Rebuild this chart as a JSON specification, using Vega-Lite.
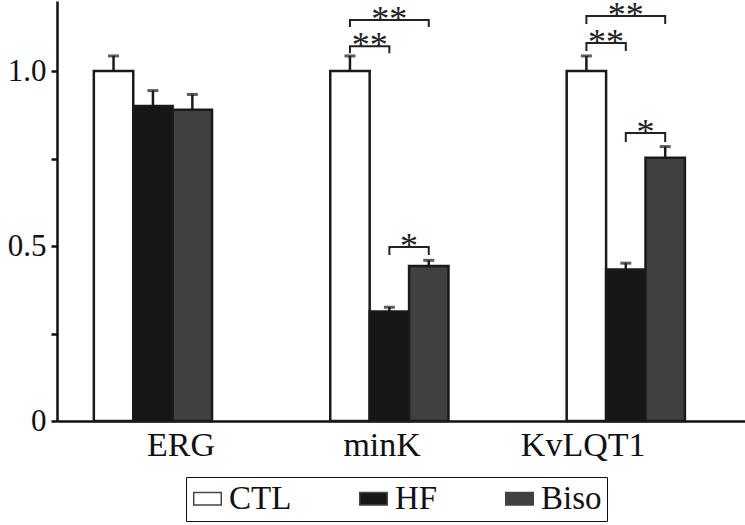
{
  "$schema": "https://vega.github.io/schema/vega-lite/v6.json",
  "width": 688,
  "height": 420,
  "autosize": {"type": "none"},
  "padding": {"left": 57, "top": 1, "right": 0, "bottom": 104},
  "config": {
    "view": {"stroke": null},
    "font": "Liberation Serif",
    "axis": {"grid": false, "labelFont": "Liberation Serif"},
    "legend": {"labelFont": "Liberation Serif"},
    "text": {"font": "Liberation Serif"}
  },
  "datasets": {
    "bars": [
      {"gene": "ERG", "group": "CTL", "value": 1.0, "upper": 1.043},
      {"gene": "ERG", "group": "HF", "value": 0.9, "upper": 0.944},
      {"gene": "ERG", "group": "Biso", "value": 0.889, "upper": 0.933},
      {"gene": "minK", "group": "CTL", "value": 1.0, "upper": 1.043},
      {"gene": "minK", "group": "HF", "value": 0.313, "upper": 0.325},
      {"gene": "minK", "group": "Biso", "value": 0.443, "upper": 0.459},
      {"gene": "KvLQT1", "group": "CTL", "value": 1.0, "upper": 1.043},
      {"gene": "KvLQT1", "group": "HF", "value": 0.433, "upper": 0.451},
      {"gene": "KvLQT1", "group": "Biso", "value": 0.752, "upper": 0.784}
    ],
    "brackets": [
      {"bracket": "m1", "ord": 1, "gene": "minK", "series": "CTL", "y": 1.051},
      {"bracket": "m1", "ord": 2, "gene": "minK", "series": "CTL", "y": 1.071},
      {"bracket": "m1", "ord": 3, "gene": "minK", "series": "HF", "y": 1.071},
      {"bracket": "m1", "ord": 4, "gene": "minK", "series": "HF", "y": 1.051},
      {"bracket": "m2", "ord": 1, "gene": "minK", "series": "CTL", "y": 1.126},
      {"bracket": "m2", "ord": 2, "gene": "minK", "series": "CTL", "y": 1.146},
      {"bracket": "m2", "ord": 3, "gene": "minK", "series": "Biso", "y": 1.146},
      {"bracket": "m2", "ord": 4, "gene": "minK", "series": "Biso", "y": 1.126},
      {"bracket": "m3", "ord": 1, "gene": "minK", "series": "HF", "y": 0.474},
      {"bracket": "m3", "ord": 2, "gene": "minK", "series": "HF", "y": 0.497},
      {"bracket": "m3", "ord": 3, "gene": "minK", "series": "Biso", "y": 0.497},
      {"bracket": "m3", "ord": 4, "gene": "minK", "series": "Biso", "y": 0.474},
      {"bracket": "k1", "ord": 1, "gene": "KvLQT1", "series": "CTL", "y": 1.057},
      {"bracket": "k1", "ord": 2, "gene": "KvLQT1", "series": "CTL", "y": 1.08},
      {"bracket": "k1", "ord": 3, "gene": "KvLQT1", "series": "HF", "y": 1.08},
      {"bracket": "k1", "ord": 4, "gene": "KvLQT1", "series": "HF", "y": 1.057},
      {"bracket": "k2", "ord": 1, "gene": "KvLQT1", "series": "CTL", "y": 1.134},
      {"bracket": "k2", "ord": 2, "gene": "KvLQT1", "series": "CTL", "y": 1.157},
      {"bracket": "k2", "ord": 3, "gene": "KvLQT1", "series": "Biso", "y": 1.157},
      {"bracket": "k2", "ord": 4, "gene": "KvLQT1", "series": "Biso", "y": 1.134},
      {"bracket": "k3", "ord": 1, "gene": "KvLQT1", "series": "HF", "y": 0.797},
      {"bracket": "k3", "ord": 2, "gene": "KvLQT1", "series": "HF", "y": 0.823},
      {"bracket": "k3", "ord": 3, "gene": "KvLQT1", "series": "Biso", "y": 0.823},
      {"bracket": "k3", "ord": 4, "gene": "KvLQT1", "series": "Biso", "y": 0.797}
    ],
    "stars": [
      {"gene": "minK", "left": "CTL", "span": 1, "level": 1.071, "label": "**"},
      {"gene": "minK", "left": "CTL", "span": 2, "level": 1.146, "label": "**"},
      {"gene": "minK", "left": "HF", "span": 1, "level": 0.497, "label": "*"},
      {"gene": "KvLQT1", "left": "CTL", "span": 1, "level": 1.08, "label": "**"},
      {"gene": "KvLQT1", "left": "CTL", "span": 2, "level": 1.157, "label": "**"},
      {"gene": "KvLQT1", "left": "HF", "span": 1, "level": 0.823, "label": "*"}
    ],
    "genes": [{"gene": "ERG"}, {"gene": "minK"}, {"gene": "KvLQT1"}]
  },
  "layer": [
    {
      "layer": [
        {
          "data": {"name": "bars"},
          "mark": {"type": "bar", "stroke": "#1a1a1a", "strokeWidth": 2.5},
          "encoding": {
            "x": {
              "field": "gene", "type": "nominal",
              "scale": {"domain": ["ERG", "minK", "KvLQT1"], "paddingInner": 0.5, "paddingOuter": 0.205, "align": 0.38, "round": false},
              "axis": {"title": null, "labels": false, "ticks": false, "domainWidth": 2.5, "domainColor": "#111"}
            },
            "xOffset": {"field": "group", "type": "nominal", "scale": {"domain": ["CTL", "HF", "Biso"], "paddingInner": 0, "paddingOuter": 0}},
            "y": {
              "field": "value", "type": "quantitative",
              "scale": {"domain": [0, 1.2], "nice": false},
              "axis": {
                "title": null,
                "values": [0, 0.25, 0.5, 0.75, 1],
                "labelExpr": "datum.value == 0 ? '0' : datum.value == 0.5 ? '0.5' : datum.value == 1 ? '1.0' : ''",
                "domainWidth": 2.5, "domainColor": "#111",
                "tickWidth": 2.5, "tickSize": 6, "tickColor": "#111",
                "labelFontSize": 31, "labelFont": "Liberation Serif", "labelColor": "#111", "labelPadding": 5
              }
            },
            "fill": {
              "field": "group", "type": "nominal",
              "scale": {"domain": ["CTL", "HF", "Biso"], "range": ["#ffffff", "#161616", "#404040"]},
              "legend": {
                "title": null, "orient": "none", "legendX": 129, "legendY": 476,
                "direction": "horizontal",
                "symbolType": "M-1,-0.46H1V0.46H-1Z", "symbolSize": 760,
                "symbolStrokeColor": "#444", "symbolStrokeWidth": 1.5,
                "labelFontSize": 33, "labelFont": "Liberation Serif", "labelColor": "#111",
                "strokeColor": "#111", "fillColor": "#ffffff", "padding": 5,
                "columnPadding": 64, "labelOffset": 5
              }
            }
          }
        },
        {
          "data": {"name": "bars"},
          "mark": {"type": "rule", "color": "#1a1a1a", "strokeWidth": 2.5},
          "encoding": {
            "x": {"field": "gene", "type": "nominal", "axis": {"title": null, "labels": false, "ticks": false}},
            "xOffset": {"field": "group", "type": "nominal", "scale": {"domain": ["CTL", "HF", "Biso"], "paddingInner": 0, "paddingOuter": 0}},
            "y": {"field": "value", "type": "quantitative", "axis": {"title": null}},
            "y2": {"field": "upper"}
          }
        },
        {
          "data": {"name": "bars"},
          "mark": {"type": "tick", "orient": "horizontal", "color": "#1a1a1a", "thickness": 3, "size": 11},
          "encoding": {
            "x": {"field": "gene", "type": "nominal", "axis": {"title": null, "labels": false, "ticks": false}},
            "xOffset": {"field": "group", "type": "nominal", "scale": {"domain": ["CTL", "HF", "Biso"], "paddingInner": 0, "paddingOuter": 0}},
            "y": {"field": "upper", "type": "quantitative", "axis": {"title": null}}
          }
        },
        {
          "data": {"name": "brackets"},
          "mark": {"type": "line", "color": "#222", "strokeWidth": 2},
          "encoding": {
            "x": {"field": "gene", "type": "nominal", "axis": {"title": null, "labels": false, "ticks": false}},
            "xOffset": {"field": "series", "type": "nominal", "scale": {"domain": ["CTL", "HF", "Biso"], "paddingInner": 0, "paddingOuter": 0}},
            "y": {"field": "y", "type": "quantitative", "axis": {"title": null}},
            "detail": {"field": "bracket", "type": "nominal"},
            "order": {"field": "ord", "type": "quantitative"}
          }
        },
        {
          "data": {"name": "stars"},
          "transform": [{"filter": "datum.span == 1"}],
          "mark": {"type": "text", "font": "Liberation Serif", "fontSize": 36, "baseline": "alphabetic", "align": "center", "dx": 19.7, "dy": 11, "color": "#222"},
          "encoding": {
            "x": {"field": "gene", "type": "nominal", "axis": {"title": null, "labels": false, "ticks": false}},
            "xOffset": {"field": "left", "type": "nominal", "scale": {"domain": ["CTL", "HF", "Biso"], "paddingInner": 0, "paddingOuter": 0}},
            "y": {"field": "level", "type": "quantitative", "axis": {"title": null}},
            "text": {"field": "label"}
          }
        },
        {
          "data": {"name": "stars"},
          "transform": [{"filter": "datum.span == 2"}],
          "mark": {"type": "text", "font": "Liberation Serif", "fontSize": 36, "baseline": "alphabetic", "align": "center", "dx": 39.4, "dy": 11, "color": "#222"},
          "encoding": {
            "x": {"field": "gene", "type": "nominal", "axis": {"title": null, "labels": false, "ticks": false}},
            "xOffset": {"field": "left", "type": "nominal", "scale": {"domain": ["CTL", "HF", "Biso"], "paddingInner": 0, "paddingOuter": 0}},
            "y": {"field": "level", "type": "quantitative", "axis": {"title": null}},
            "text": {"field": "label"}
          }
        }
      ]
    },
    {
      "data": {"name": "genes"},
      "mark": {"type": "text", "font": "Liberation Serif", "fontSize": 34, "baseline": "alphabetic", "align": "center", "dy": 35, "color": "#111"},
      "encoding": {
        "x": {"field": "gene", "type": "nominal", "scale": {"type": "point", "domain": ["ERG", "minK", "KvLQT1"], "padding": 0.711, "align": 0.434}, "axis": null},
        "y": {"datum": 0, "type": "quantitative"},
        "text": {"field": "gene"}
      }
    }
  ],
  "resolve": {"scale": {"x": "independent"}}
}
